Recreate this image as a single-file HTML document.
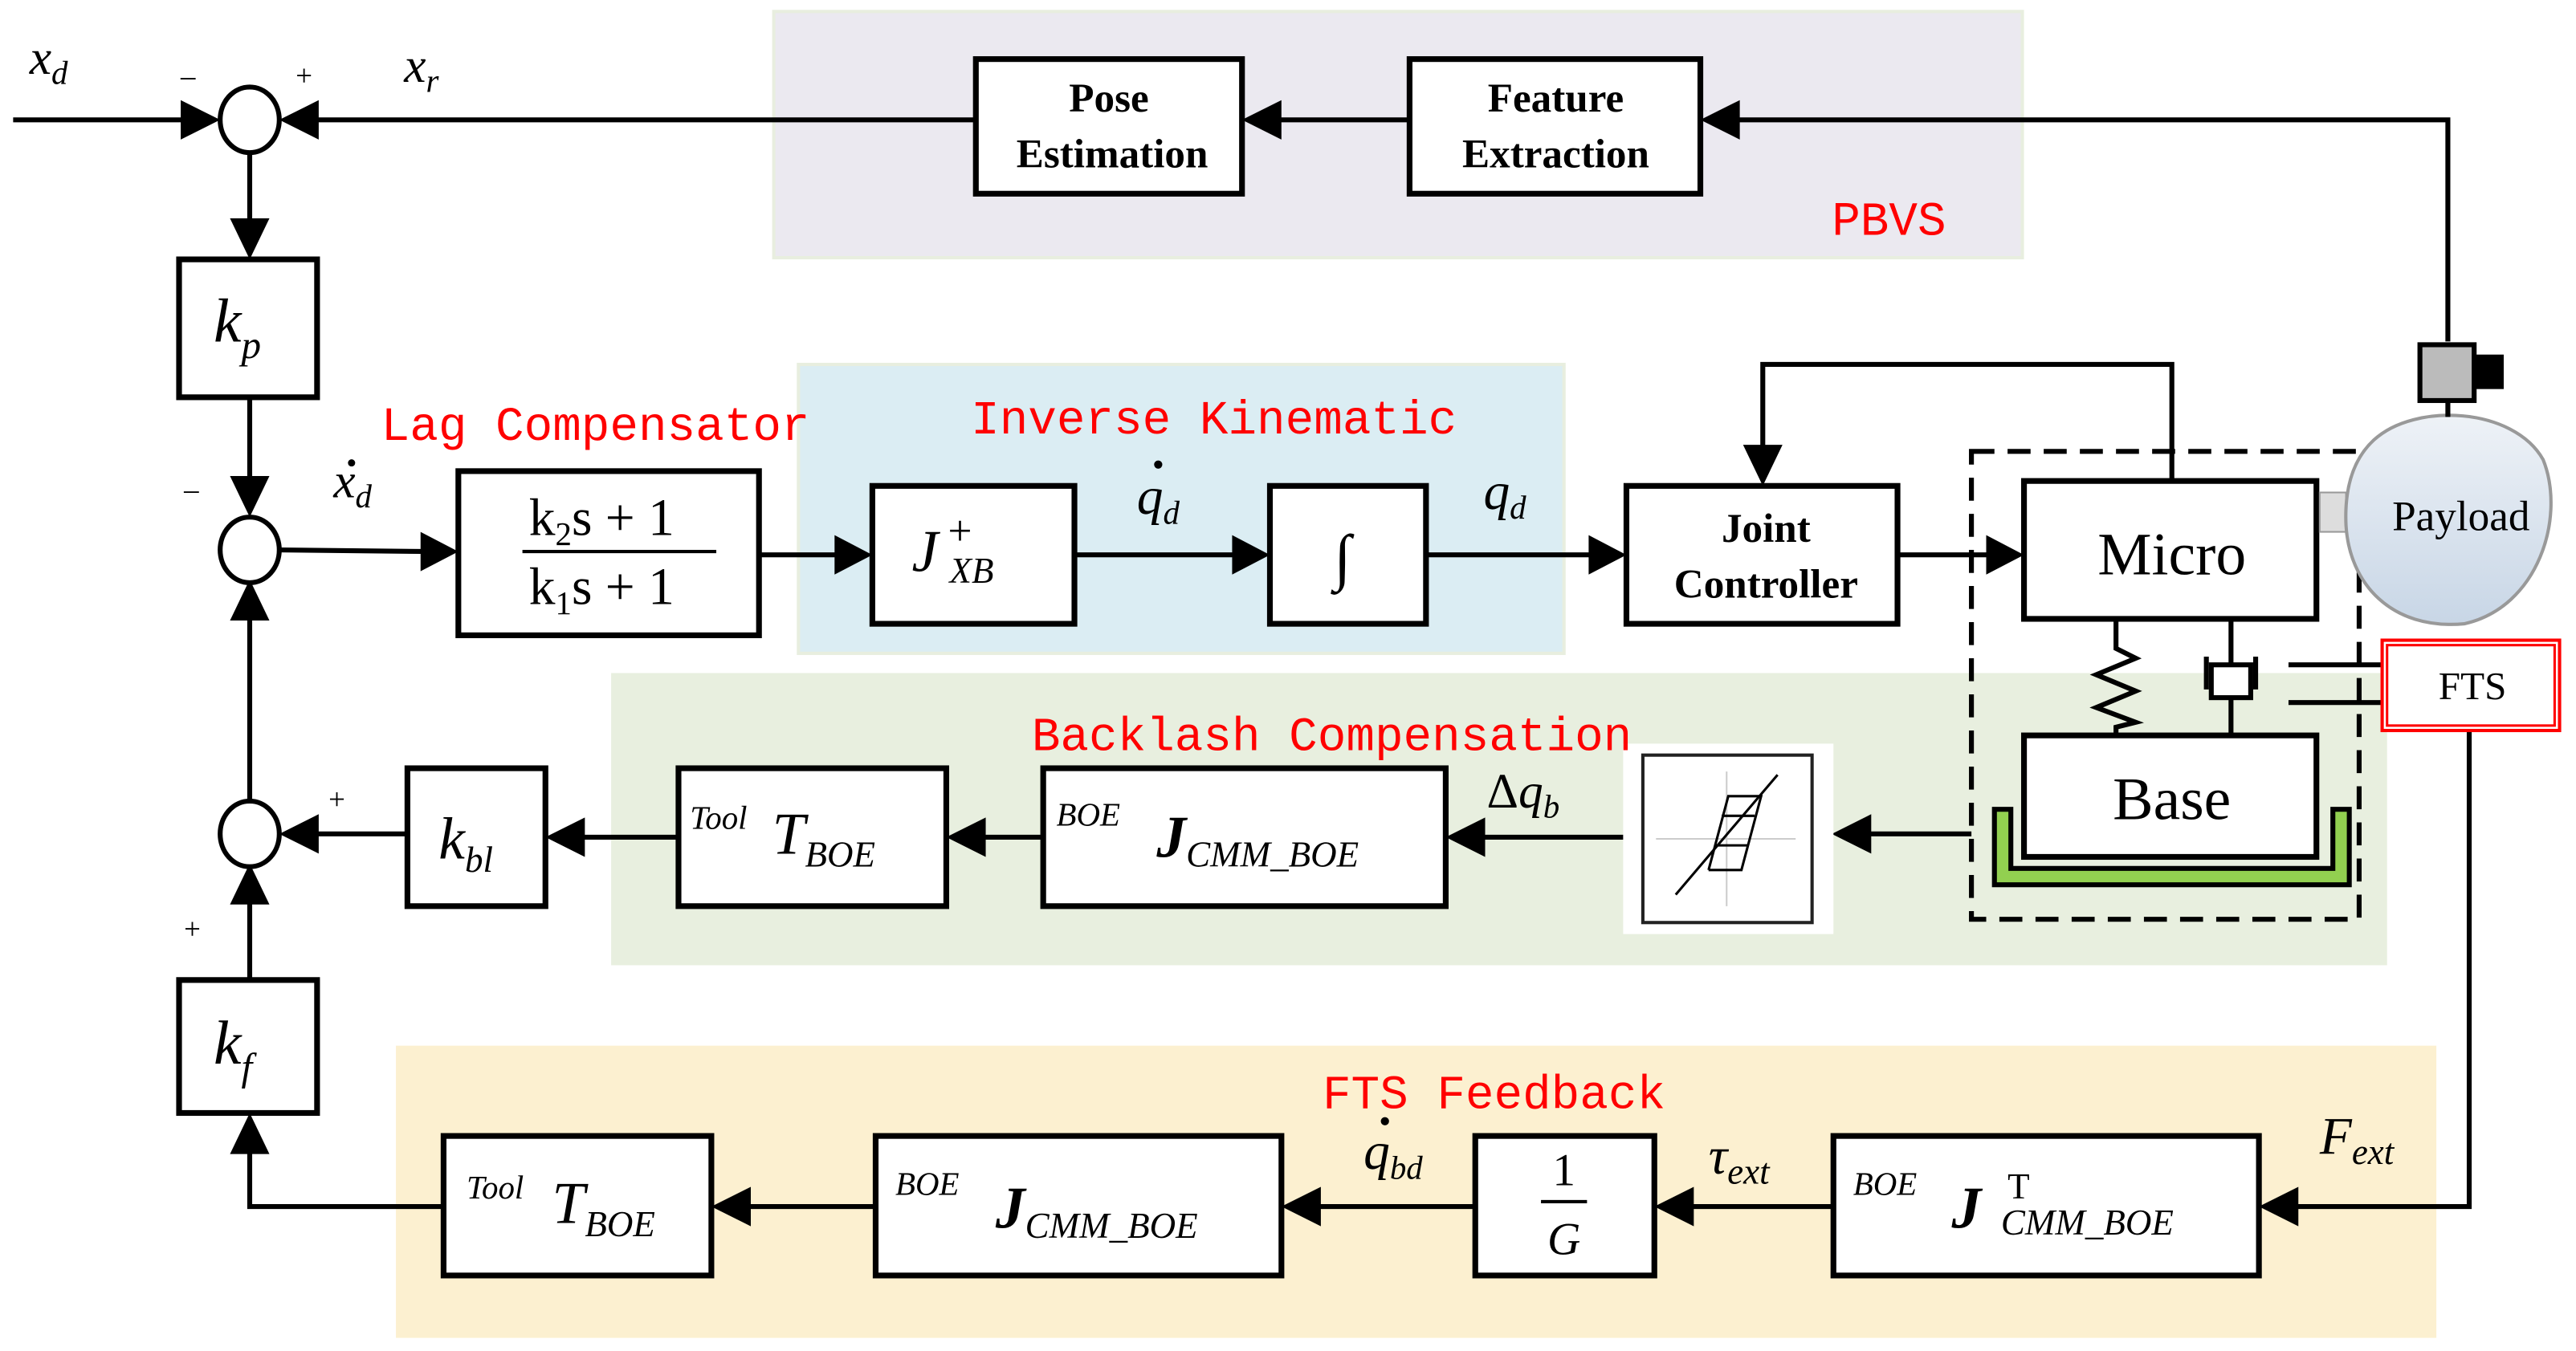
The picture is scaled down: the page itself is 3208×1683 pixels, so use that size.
<!DOCTYPE html>
<html><head><meta charset="utf-8"><style>html,body{margin:0;padding:0;background:#fff;}svg{display:block}</style></head>
<body>
<svg width="3208" height="1683" viewBox="0 0 1568 823" preserveAspectRatio="none" xmlns="http://www.w3.org/2000/svg">
<defs>
<linearGradient id="pg" x1="0" y1="0" x2="0" y2="1"><stop offset="0" stop-color="#eef2f7"/><stop offset="1" stop-color="#c8d6e6"/></linearGradient>
</defs>
<style>
.ln{stroke:#000;stroke-width:3;fill:none}
.bx{stroke:#000;stroke-width:3.5;fill:#fff}
.ar{fill:#000}
.b{font-family:"Liberation Serif",serif;font-weight:bold;font-size:25px;text-anchor:middle}
.m{font-family:"Liberation Serif",serif;font-style:italic}
.r{font-family:"Liberation Mono",monospace;fill:#f00;font-size:29px}
.t{font-family:"Liberation Serif",serif}
</style>
<rect x="471" y="7" width="760" height="150" fill="#ebe9f0" stroke="#e8eedf" stroke-width="2"/>
<rect x="486" y="222" width="466" height="176" fill="#dbedf3" stroke="#e8eedf" stroke-width="2"/>
<rect x="372" y="410" width="1081" height="178" fill="#e8efdf"/>
<rect x="241" y="637" width="1242" height="178" fill="#fcf0d0"/>

<g class="ln">
<line x1="8" y1="73" x2="120" y2="73"/>
<line x1="184" y1="73" x2="594" y2="73"/>
<line x1="770" y1="73" x2="858" y2="73"/>
<polyline points="1490,208 1490,73 1050,73"/>
<line x1="152" y1="93" x2="152" y2="143"/>
<line x1="152" y1="242" x2="152" y2="300"/>
<line x1="170" y1="335" x2="264" y2="336"/>
<line x1="462" y1="338" x2="516" y2="338"/>
<line x1="654" y1="338" x2="758" y2="338"/>
<line x1="868" y1="338" x2="975" y2="338"/>
<line x1="1155" y1="338" x2="1217" y2="338"/>
<polyline points="1322,293 1322,222 1073,222 1073,281"/>
<line x1="152" y1="490" x2="152" y2="368"/>
<line x1="248" y1="508" x2="185" y2="508"/>
<line x1="413" y1="510" x2="347" y2="510"/>
<line x1="635" y1="510" x2="591" y2="510"/>
<line x1="998" y1="510" x2="895" y2="510"/>
<line x1="1200" y1="508" x2="1130" y2="508"/>
<polyline points="1503,445 1503,735 1390,735"/>
<line x1="1116" y1="735" x2="1022" y2="735"/>
<line x1="898" y1="735" x2="795" y2="735"/>
<line x1="533" y1="735" x2="448" y2="735"/>
<polyline points="270,735 152,735 152,693"/>
<line x1="152" y1="597" x2="152" y2="541"/>
</g>
<g class="ar">
<polygon points="134,73 110,61 110,85"/>
<polygon points="170,73 194,61 194,85"/>
<polygon points="756,73 780,61 780,85"/>
<polygon points="1035,73 1059,61 1059,85"/>
<polygon points="152,158 140,133 164,133"/>
<polygon points="152,315 140,290 164,290"/>
<polygon points="279,336 256,324 256,348"/>
<polygon points="531,338 508,326 508,350"/>
<polygon points="773,338 750,326 750,350"/>
<polygon points="990,338 967,326 967,350"/>
<polygon points="1232,338 1209,326 1209,350"/>
<polygon points="1073,296 1061,271 1085,271"/>
<polygon points="152,353 140,378 164,378"/>
<polygon points="170,508 194,496 194,520"/>
<polygon points="332,510 356,498 356,522"/>
<polygon points="576,510 600,498 600,522"/>
<polygon points="880,510 904,498 904,522"/>
<polygon points="1115,508 1139,496 1139,520"/>
<polygon points="1375,735 1399,723 1399,747"/>
<polygon points="1007,735 1031,723 1031,747"/>
<polygon points="780,735 804,723 804,747"/>
<polygon points="433,735 457,723 457,747"/>
<polygon points="152,678 140,703 164,703"/>
<polygon points="152,526 140,551 164,551"/>
</g>

<ellipse cx="152" cy="73" rx="18" ry="20" fill="#fff" stroke="#000" stroke-width="3"/>
<ellipse cx="152" cy="335" rx="18" ry="20" fill="#fff" stroke="#000" stroke-width="3"/>
<ellipse cx="152" cy="508" rx="18" ry="20" fill="#fff" stroke="#000" stroke-width="3"/>

<rect class="bx" x="594" y="36" width="162" height="82"/>
<rect class="bx" x="858" y="36" width="177" height="82"/>
<rect class="bx" x="109" y="158" width="84" height="84"/>
<rect class="bx" x="279" y="287" width="183" height="100"/>
<rect class="bx" x="531" y="296" width="123" height="84"/>
<rect class="bx" x="773" y="296" width="95" height="84"/>
<rect class="bx" x="990" y="296" width="165" height="84"/>
<rect class="bx" x="248" y="468" width="84" height="84"/>
<rect class="bx" x="413" y="468" width="163" height="84"/>
<rect class="bx" x="635" y="468" width="245" height="84"/>
<rect class="bx" x="109" y="597" width="84" height="81"/>
<rect class="bx" x="270" y="692" width="163" height="85"/>
<rect class="bx" x="533" y="692" width="247" height="85"/>
<rect class="bx" x="898" y="692" width="109" height="85"/>
<rect class="bx" x="1116" y="692" width="259" height="85"/>

<rect x="988" y="453" width="128" height="116" fill="#fff"/>
<rect x="1000" y="460" width="103" height="102" fill="#fff" stroke="#222" stroke-width="2"/>
<line x1="1051" y1="470" x2="1051" y2="552" stroke="#ccc" stroke-width="1"/>
<line x1="1008" y1="511" x2="1093" y2="511" stroke="#ccc" stroke-width="1"/>
<g stroke="#000" stroke-width="1.5" fill="none">
<line x1="1020" y1="545" x2="1082" y2="472"/>
<polyline points="1040,530 1060,530 1072,485 1052,485 1040,530"/>
<line x1="1048" y1="497" x2="1068" y2="497"/>
<line x1="1044" y1="515" x2="1064" y2="515"/>
</g>

<rect x="1200" y="275" width="236" height="285" fill="none" stroke="#000" stroke-width="3" stroke-dasharray="14,8"/>
<rect class="bx" x="1232" y="293" width="178" height="84"/>
<rect class="bx" x="1232" y="448" width="178" height="74"/>
<path d="M1214,493 h10 v36 h196 v-36 h10 v46 h-216z" fill="#92d050" stroke="#000" stroke-width="3"/>
<polyline class="ln" points="1288,377 1288,395 1300,401 1276,411 1300,421 1276,431 1300,440 1288,443 1288,448"/>
<line class="ln" x1="1358" y1="377" x2="1358" y2="410"/>
<rect x="1346" y="405" width="24" height="20" fill="#fff" stroke="#000" stroke-width="3"/>
<line class="ln" x1="1343" y1="400" x2="1343" y2="420"/>
<line class="ln" x1="1373" y1="400" x2="1373" y2="420"/>
<line class="ln" x1="1358" y1="425" x2="1358" y2="448"/>
<line class="ln" x1="1393" y1="405" x2="1450" y2="405"/>
<line class="ln" x1="1393" y1="428" x2="1450" y2="428"/>
<rect x="1450" y="390" width="108" height="55" fill="#fff" stroke="#f00" stroke-width="2"/>
<rect x="1453" y="393" width="102" height="49" fill="none" stroke="#f00" stroke-width="1.5"/>

<rect x="1412" y="300" width="16" height="24" fill="#ddd" stroke="#999" stroke-width="1"/>
<path d="M1445,268 C1470,245 1530,248 1548,280 C1562,315 1545,370 1500,380 C1455,384 1430,355 1428,320 C1427,298 1432,280 1445,268z" fill="url(#pg)" stroke="#999" stroke-width="2"/>
<line class="ln" x1="1490" y1="240" x2="1490" y2="254"/>
<rect x="1473" y="210" width="33" height="34" fill="#bbb" stroke="#000" stroke-width="3"/>
<rect x="1506" y="216" width="18" height="21" fill="#000"/>

<text class="b" x="675" y="68">Pose</text>
<text class="b" x="677" y="102">Estimation</text>
<text class="b" x="947" y="68">Feature</text>
<text class="b" x="947" y="102">Extraction</text>
<text class="b" x="1075" y="330">Joint</text>
<text class="b" x="1075" y="364">Controller</text>
<text class="t" x="1322" y="350" font-size="37" text-anchor="middle">Micro</text>
<text class="t" x="1322" y="499" font-size="37" text-anchor="middle">Base</text>
<text class="t" x="1498" y="323" font-size="26" text-anchor="middle">Payload</text>
<text class="t" x="1505" y="426" font-size="24" text-anchor="middle">FTS</text>
<text class="r" x="1115" y="143">PBVS</text>
<text class="r" x="232" y="268">Lag Compensator</text>
<text class="r" x="591" y="264">Inverse Kinematic</text>
<text class="r" x="628" y="457">Backlash Compensation</text>
<text class="r" x="805" y="675">FTS Feedback</text>

<text class="m" x="18" y="45" font-size="30">x<tspan font-size="20" dy="6">d</tspan></text>
<text class="t" x="110" y="52" font-size="18">–</text>
<text class="t" x="180" y="52" font-size="18">+</text>
<text class="m" x="246" y="50" font-size="30">x<tspan font-size="20" dy="6">r</tspan></text>
<text class="m" x="130" y="208" font-size="38">k<tspan font-size="24" dy="10">p</tspan></text>
<text class="t" x="112" y="304" font-size="18">–</text>
<text class="m" x="203" y="303" font-size="30">x<tspan font-size="20" dy="6">d</tspan></text>
<circle cx="214" cy="282" r="2.2"/>
<text class="t" x="322" y="326" font-size="32">k<tspan font-size="20" dy="6">2</tspan><tspan dy="-6">s + 1</tspan></text>
<line x1="318" y1="336" x2="436" y2="336" stroke="#000" stroke-width="2"/>
<text class="t" x="322" y="368" font-size="32">k<tspan font-size="20" dy="6">1</tspan><tspan dy="-6">s + 1</tspan></text>
<text class="m" x="555" y="348" font-size="36">J</text>
<text class="t" x="577" y="332" font-size="26">+</text>
<text class="m" x="578" y="355" font-size="22">XB</text>
<text class="m" x="692" y="313" font-size="32">q<tspan font-size="20" dy="6">d</tspan></text>
<circle cx="705" cy="283" r="2.5"/>
<text class="m" x="812" y="352" font-size="38">∫</text>
<text class="m" x="903" y="310" font-size="32">q<tspan font-size="20" dy="6">d</tspan></text>
<text class="m" x="267" y="523" font-size="36">k<tspan font-size="22" dy="8">bl</tspan></text>
<text class="t" x="200" y="493" font-size="18">+</text>
<text class="t" x="112" y="572" font-size="18">+</text>
<text class="m" x="420" y="505" font-size="20">Tool</text>
<text class="m" x="470" y="520" font-size="36">T<tspan font-size="22" dy="8">BOE</tspan></text>
<text class="m" x="643" y="503" font-size="20">BOE</text>
<text class="m" x="704" y="522" font-size="36" font-weight="bold">J<tspan font-size="22" font-weight="normal" dy="6">CMM_BOE</tspan></text>
<text class="t" x="905" y="492" font-size="30">Δ<tspan class="m">q</tspan><tspan class="m" font-size="20" dy="6">b</tspan></text>
<text class="m" x="130" y="648" font-size="38">k<tspan font-size="24" dy="10">f</tspan></text>
<text class="m" x="284" y="730" font-size="20">Tool</text>
<text class="m" x="336" y="745" font-size="36">T<tspan font-size="22" dy="8">BOE</tspan></text>
<text class="m" x="545" y="728" font-size="20">BOE</text>
<text class="m" x="606" y="748" font-size="36" font-weight="bold">J<tspan font-size="22" font-weight="normal" dy="6">CMM_BOE</tspan></text>
<text class="m" x="830" y="712" font-size="32">q<tspan font-size="20" dy="6">bd</tspan></text>
<circle cx="843" cy="683" r="2.5"/>
<text class="t" x="952" y="722" font-size="28" text-anchor="middle">1</text>
<line x1="938" y1="732" x2="966" y2="732" stroke="#000" stroke-width="2"/>
<text class="m" x="952" y="764" font-size="28" text-anchor="middle">G</text>
<text class="m" x="1040" y="715" font-size="32">τ<tspan font-size="22" dy="6">ext</tspan></text>
<text class="m" x="1128" y="728" font-size="20">BOE</text>
<text class="m" x="1188" y="748" font-size="36" font-weight="bold">J</text>
<text class="t" x="1222" y="730" font-size="22">T</text>
<text class="m" x="1218" y="752" font-size="22">CMM_BOE</text>
<text class="m" x="1412" y="703" font-size="32">F<tspan font-size="22" dy="6">ext</tspan></text>
</svg>
</body></html>
